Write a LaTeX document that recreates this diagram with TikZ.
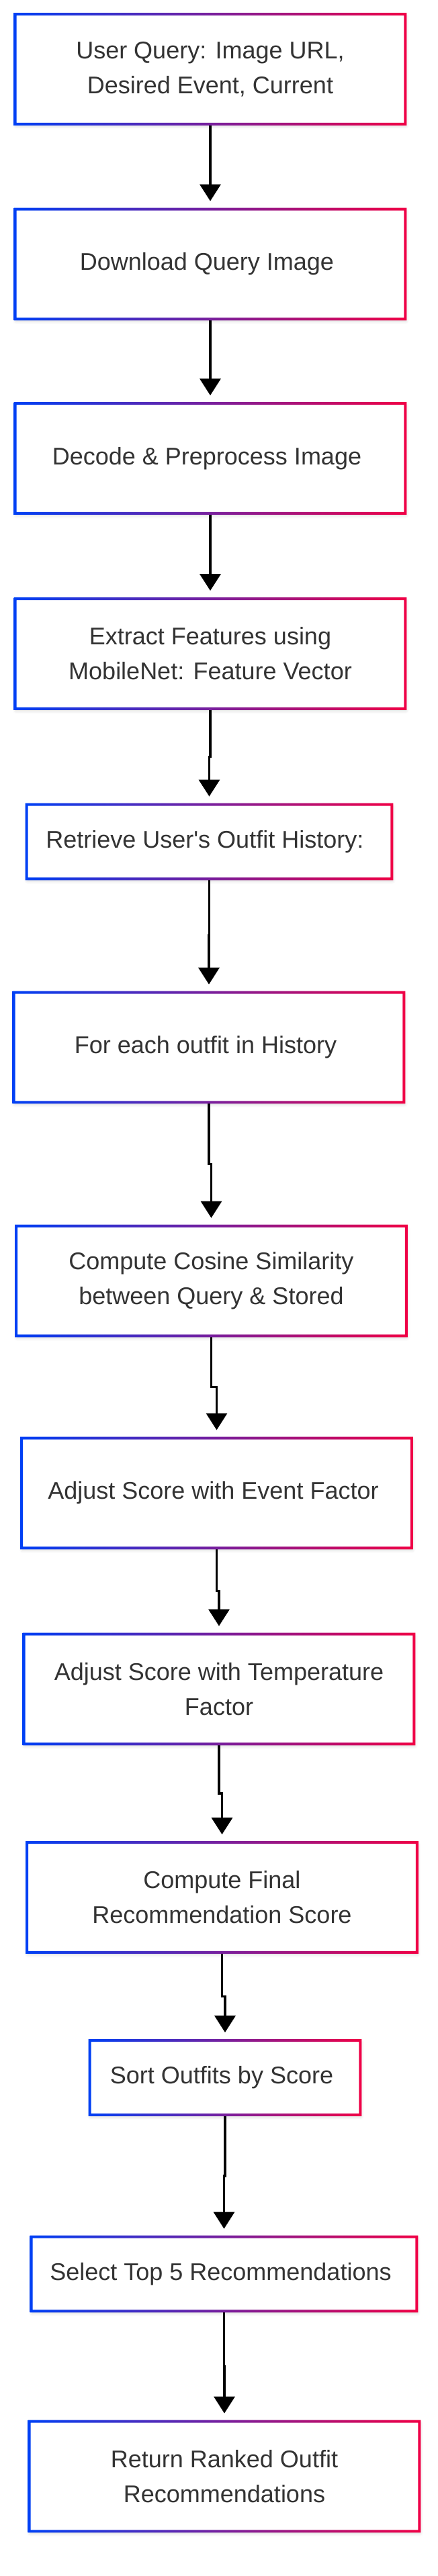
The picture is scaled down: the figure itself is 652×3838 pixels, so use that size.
\documentclass[tikz,border=0pt]{standalone}
\usepackage{fontspec}
\setmainfont{Liberation Sans}
\usetikzlibrary{positioning,calc,arrows.meta,shadows.blur}
\definecolor{qblue}{RGB}{0,64,245}
\definecolor{qred}{RGB}{240,0,70}
\definecolor{qtext}{RGB}{51,51,51}
\tikzstyle{stage} = [ rectangle, fill = white, inner sep = 0pt, align = center, text = qtext,
	font = \fontsize{18pt}{26pt}\selectfont, minimum width = 290pt, minimum height = 81.5pt,
	blur shadow = {shadow xshift = 0.5pt, shadow yshift = -1.5pt, shadow blur radius = 2.5pt, shadow opacity = 18} ]
\tikzstyle{stagelow} = [ stage, minimum height = 55pt ]
\tikzstyle{ring} = [ even odd rule, left color = qblue, right color = qred ]
\tikzstyle{edge} = [ -{Triangle[length=12.5pt, width=15.5pt]}, line width = 1.75pt, shorten > = 6pt ]

\begin{document}
\begin{tikzpicture}[x=0.5pt, y=-0.5pt]
	\useasboundingbox (0, 0) rectangle (652, 3838);

	\node[stage] (query) at ( 313, 103 ) { User Query: Image URL,\\ Desired Event, Current };
	\node[stage] (dl) at ( 313, 393.5 ) { Download Query Image };
	\node[stage] (decode) at ( 313, 683 ) { Decode \& Preprocess Image };
	\node[stage] (feat) at ( 313, 974 ) { Extract Features using\\ MobileNet: Feature Vector };
	\node[stagelow, minimum width = 271.5pt] (hist) at ( 311.5, 1254 ) { Retrieve User\textquotesingle s Outfit History: };
	\node[stage] (each) at ( 311, 1560.5 ) { For each outfit in History };
	\node[stage] (cos) at ( 314.5, 1908.5 ) { Compute Cosine Similarity\\ between Query \& Stored };
	\node[stage] (evt) at ( 322.5, 2224.5 ) { Adjust Score with Event Factor };
	\node[stage] (temp) at ( 326, 2516.5 ) { Adjust Score with Temperature\\ Factor };
	\node[stage] (final) at ( 330.5, 2827 ) { Compute Final\\ Recommendation Score };
	\node[stagelow, minimum width = 201pt] (sort) at ( 335, 3095.5 ) { Sort Outfits by Score };
	\node[stagelow, minimum width = 286.5pt] (top) at ( 333.5, 3388 ) { Select Top 5 Recommendations };
	\node[stage] (ret) at ( 334, 3689.5 ) { Return Ranked Outfit\\ Recommendations };

	% arrows, with a small step half way
	\foreach \a/\b in {query/dl, dl/decode, decode/feat, feat/hist, hist/each, each/cos, cos/evt,
		evt/temp, temp/final, final/sort, sort/top, top/ret}
		\draw[edge] (\a.south) |- ($(\a.south)!0.5!(\b.north)$) -| (\b.north);

	% gradient borders
	\foreach \n in {query, dl, decode, feat, hist, each, cos, evt, temp, final, sort, top, ret}
		\shade[ring] ($(\n.south west)+(-1pt,-1pt)$) rectangle ($(\n.north east)+(1pt,1pt)$)
			($(\n.south west)+(1pt,1pt)$) rectangle ($(\n.north east)+(-1pt,-1pt)$);
\end{tikzpicture}
\end{document}
